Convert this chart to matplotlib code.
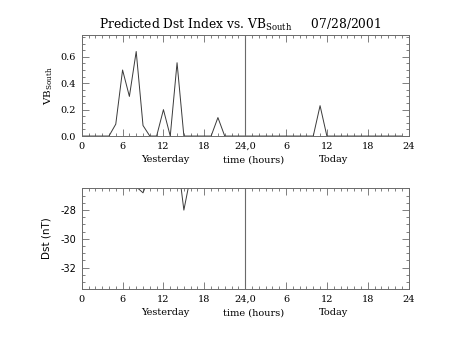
import numpy as np
import matplotlib
matplotlib.use('Agg')
import matplotlib.pyplot as plt
from matplotlib.ticker import MultipleLocator, FixedLocator

plt.rcParams['font.family'] = 'DejaVu Serif'
plt.rcParams['mathtext.fontset'] = 'dejavuserif'
plt.rcParams['axes.unicode_minus'] = False

# hourly values, yesterday 0-23 then today 24-47
hours = np.arange(48)
vb_south = [0, 0, 0, 0, 0, 0.09, 0.50, 0.30, 0.64, 0.08, 0, 0,
            0.20, 0, 0.555, 0, 0, 0, 0, 0, 0.14, 0, 0, 0,
            0, 0, 0, 0, 0, 0, 0, 0, 0, 0, 0, 0.23,
            0, 0, 0, 0, 0, 0, 0, 0, 0, 0, 0, 0]

dst_hours = np.arange(24)
dst = [-22, -23, -23, -24, -24, -25, -25, -26, -26.38, -26.8, -25.6, -25,
       -24.5, -24, -24.2, -28, -25.6, -25, -24.5, -24, -23.5, -23, -22.5, -22]

xtick_pos = [0, 6, 12, 18, 24, 30, 36, 42, 48]
xtick_lbl = ['0', '6', '12', '18', '24,0', '6', '12', '18', '24']

line_c = '#3a3a3a'
axis_c = '#6a6a6a'
fs = 7

fig = plt.figure(figsize=(4.54, 3.41), dpi=100)
ax1 = fig.add_axes([0.180, 0.601, 0.720, 0.296])
ax2 = fig.add_axes([0.180, 0.1525, 0.720, 0.296])


def style(ax):
    for s in ax.spines.values():
        s.set_color(axis_c)
        s.set_linewidth(0.7)
    ax.set_xlim(0, 48)
    ax.xaxis.set_major_locator(FixedLocator(xtick_pos))
    ax.set_xticklabels(xtick_lbl)
    ax.xaxis.set_minor_locator(MultipleLocator(1))
    ax.tick_params(which='both', direction='in', top=True, right=True,
                   color=axis_c, width=0.6, labelsize=fs, pad=4)
    ax.tick_params(which='major', length=5)
    ax.tick_params(which='minor', length=2.5)
    ax.axvline(24, color=axis_c, lw=0.8)
    ax.text(12.3, -0.19, 'Yesterday', transform=ax.get_xaxis_transform(),
            ha='center', va='top', fontsize=fs)
    ax.text(25.2, -0.19, 'time (hours)', transform=ax.get_xaxis_transform(),
            ha='center', va='top', fontsize=fs)
    ax.text(37.0, -0.19, 'Today', transform=ax.get_xaxis_transform(),
            ha='center', va='top', fontsize=fs)


# top panel: VB south
ax1.plot(hours, vb_south, color=line_c, lw=0.7)
style(ax1)
ax1.set_ylim(0, 0.764)
ax1.yaxis.set_major_locator(MultipleLocator(0.2))
ax1.yaxis.set_minor_locator(MultipleLocator(0.05))
ax1.yaxis.set_major_formatter(matplotlib.ticker.FormatStrFormatter('%.1f'))
ax1.set_ylabel(r'VB$_{\rm South}$', fontsize=fs + 0.5, labelpad=4)

# bottom panel: Dst
ax2.plot(dst_hours, dst, color=line_c, lw=0.7)
style(ax2)
ax2.set_ylim(-33.48, -26.47)
ax2.yaxis.set_major_locator(MultipleLocator(2))
ax2.yaxis.set_minor_locator(MultipleLocator(0.5))
for t in ax2.get_yticklabels():
    t.set_family('DejaVu Sans')
ax2.set_ylabel('Dst (nT)', fontsize=fs + 0.5, family='DejaVu Sans', labelpad=6)

fig.text(0.53, 0.915, r'Predicted Dst Index vs. VB$_{\rm South}$     07/28/2001',
         ha='center', va='baseline', fontsize=8.8)

fig.savefig('out.png', dpi=100)
